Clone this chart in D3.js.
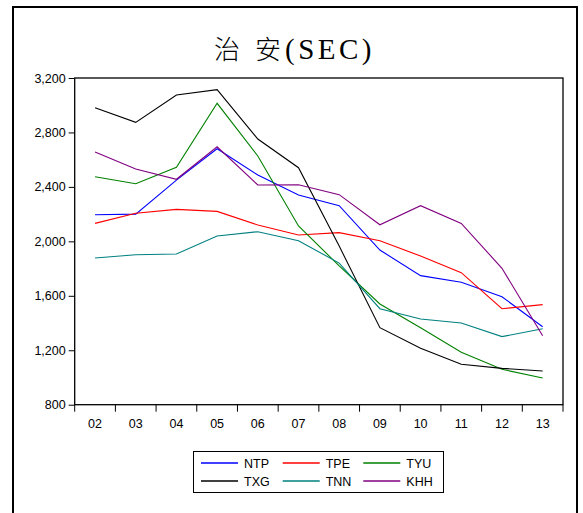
<!DOCTYPE html>
<html>
<head>
<meta charset="utf-8">
<script src="https://cdn.jsdelivr.net/npm/d3@7"></script>
<style>
  body { margin: 0; background: #fff; }
  svg { display: block; }
</style>
</head>
<body>
<div id="chart"></div>
<script>
// data
var years = ["02", "03", "04", "05", "06", "07", "08", "09", "10", "11", "12", "13"];
var yTicks = [800, 1200, 1600, 2000, 2400, 2800, 3200];
var seriesNames = ["NTP", "TPE", "TYU", "TXG", "TNN", "KHH"];
var seriesColors = ["#0000ff", "#ff0000", "#008000", "#000000", "#008080", "#800080"];

var NTP = [2195, 2200, 2450, 2680, 2487, 2340, 2262, 1936, 1748, 1700, 1593, 1373];
var TPE = [2132, 2206, 2235, 2220, 2120, 2047, 2064, 2005, 1892, 1770, 1505, 1535];
var TYU = [2475, 2423, 2544, 3014, 2627, 2113, 1820, 1540, 1366, 1185, 1060, 996];
var TXG = [2982, 2874, 3075, 3114, 2752, 2541, 1965, 1366, 1214, 1097, 1067, 1048];
var TNN = [1878, 1902, 1907, 2039, 2071, 2005, 1840, 1505, 1430, 1400, 1300, 1358];
var KHH = [2656, 2531, 2456, 2695, 2414, 2416, 2343, 2122, 2262, 2132, 1802, 1307];

var seriesValues = [NTP, TPE, TYU, TXG, TNN, KHH];

var width = 583, height = 513;
var plot = {left: 74.7, top: 78, right: 563, bottom: 404.7};

var svg = d3.select("#chart").append("svg")
    .attr("width", width)
    .attr("height", height);

// outer frame
svg.append("rect")
    .attr("x", 13).attr("y", 7)
    .attr("width", 564).attr("height", 530)
    .attr("fill", "none")
    .attr("stroke", "#000")
    .style("stroke-width", "2px");

// title, the two characters are spaced apart like the original
var title = svg.append("text")
    .attr("y", 59)
    .style("font-size", "26px");
title.append("tspan")
    .attr("x", 214)
    .style("font-family", "'Noto Sans CJK TC', sans-serif")
    .style("font-weight", 300)
    .text("治");
title.append("tspan")
    .attr("x", 255)
    .style("font-family", "'Noto Sans CJK TC', sans-serif")
    .style("font-weight", 300)
    .text("安");
title.append("tspan")
    .attr("x", 285)
    .style("font-family", "'Liberation Serif', serif")
    .style("font-size", "29px")
    .style("letter-spacing", "3.5px")
    .text("(SEC)");

var x = d3.scaleBand()
    .domain(years)
    .range([plot.left, plot.right]);

var y = d3.scaleLinear()
    .domain([800, 3200])
    .range([plot.bottom, plot.top]);

// plot box
svg.append("rect")
    .attr("x", plot.left).attr("y", plot.top)
    .attr("width", plot.right - plot.left)
    .attr("height", plot.bottom - plot.top)
    .attr("fill", "none")
    .attr("stroke", "#000")
    .style("stroke-width", "1.3px");

// y axis
var yAxis = svg.append("g")
    .attr("transform", "translate(" + plot.left + ",0)")
    .call(d3.axisLeft(y).tickValues(yTicks).tickSize(6).tickPadding(3).tickFormat(d3.format(",")));
yAxis.select(".domain").remove();
yAxis.selectAll("text")
    .style("font-family", "'Liberation Sans', Arial, sans-serif")
    .style("font-size", "12.5px")
    .attr("fill", "#000");

// x axis: ticks on the band edges, labels at centres
var xAxis = svg.append("g")
    .attr("transform", "translate(0," + plot.bottom + ")");
var edges = years.map(d => x(d)).concat([plot.right]);
xAxis.selectAll("line")
    .data(edges)
    .enter()
    .append("line")
    .attr("x1", d => d).attr("x2", d => d)
    .attr("y1", 0).attr("y2", 7)
    .attr("stroke", "#000");
xAxis.selectAll("text")
    .data(years)
    .enter()
    .append("text")
    .attr("x", d => x(d) + x.bandwidth() / 2)
    .attr("y", 23)
    .attr("text-anchor", "middle")
    .style("font-family", "'Liberation Sans', Arial, sans-serif")
    .style("font-size", "12.5px")
    .text(d => d);

var line = d3.line()
    .x((d, i) => x(years[i]) + x.bandwidth() / 2)
    .y(d => y(d));

svg.selectAll(".series")
    .data(seriesValues)
    .enter()
    .append("path")
    .attr("class", "series")
    .attr("d", d => line(d))
    .attr("fill", "none")
    .attr("stroke", (d, i) => seriesColors[i])
    .style("stroke-width", "1.1px");

// legend
var legend = svg.append("g");
legend.append("rect")
    .attr("x", 193.5).attr("y", 451.5)
    .attr("width", 250).attr("height", 41)
    .attr("fill", "#fff")
    .attr("stroke", "#000");

var colX = [201, 282.7, 363.3];
var rowY = [463, 481];
seriesNames.forEach(function(name, i) {
  var gx = colX[i % 3], gy = rowY[Math.floor(i / 3)];
  legend.append("path")
      .attr("d", "M" + gx + "," + gy + "H" + (gx + 37))
      .attr("fill", "none")
      .style("stroke", seriesColors[i])
      .style("stroke-width", "1.5px");
  legend.append("text")
      .attr("x", gx + 43).attr("y", gy + 5)
      .style("font-family", "'Liberation Sans', Arial, sans-serif")
      .style("font-size", "12.5px")
      .text(name);
});
</script>
</body>
</html>
